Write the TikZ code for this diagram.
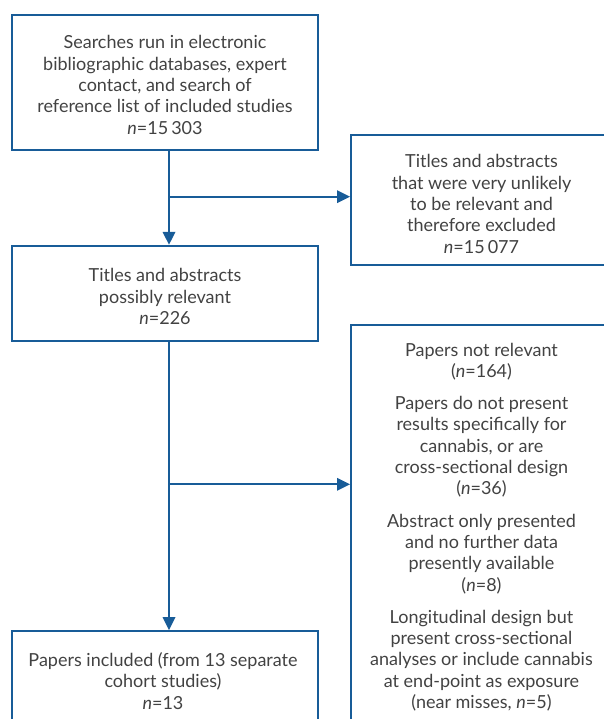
\documentclass[tikz,border=0pt]{standalone}
\usepackage{fontspec}
\setmainfont{Lato}
\usetikzlibrary{arrows.meta}
\definecolor{frame}{RGB}{24,92,152}
\definecolor{txt}{RGB}{66,66,66}
\begin{document}
\begin{tikzpicture}[x=1pt,y=-1pt,
  box/.style={draw=frame, line width=1.8pt, rectangle, inner sep=0pt},
  lbl/.style={align=center, text=txt, inner sep=0pt, font=\fontsize{18}{21.3}\selectfont},
  conn/.style={draw=frame, line width=1.8pt, -{Triangle[length=13pt,width=12.5pt]}}]
\useasboundingbox (0,0) rectangle (604,719);
\clip (0,0) rectangle (604,719);
% boxes
\node[box, minimum width=306pt, minimum height=135.3pt] (b1) at (165,82.35) {};
\node[box, minimum width=261pt, minimum height=130.3pt] (b2) at (481.5,199.85) {};
\node[box, minimum width=306pt, minimum height=95.3pt] (b3) at (165,293.35) {};
\node[box, minimum width=261pt, minimum height=405pt] (b4) at (481.5,527.5) {};
\node[box, minimum width=306pt, minimum height=104pt] (b5) at (165,683) {};
% texts
\node[lbl] (t1) at (165,85) {Searches run in electronic\\bibliographic databases, expert\\contact, and search of\\reference list of included studies\\\textit{n}=15\,303};
\node[lbl] (t2) at (481.5,204) {Titles and abstracts\\that were very unlikely\\to be relevant and\\therefore excluded\\\textit{n}=15\,077};
\node[lbl] (t3) at (165,296.5) {Titles and abstracts\\possibly relevant\\\textit{n}=226};
\node[lbl] (t4) at (481.5,527) {Papers not relevant\\(\textit{n}=164)\\[11pt]Papers do not present\\results specifically for\\cannabis, or are\\cross-sectional design\\(\textit{n}=36)\\[11pt]Abstract only presented\\and no further data\\presently available\\(\textit{n}=8)\\[11pt]Longitudinal design but\\present cross-sectional\\analyses or include cannabis\\at end-point as exposure\\(near misses, \textit{n}=5)};
\node[lbl] (t5) at (163,681) {Papers included (from 13 separate\\cohort studies)\\\textit{n}=13};
% connectors
\coordinate (trunk) at (169,0);
\coordinate (j1) at (169,196.7);
\coordinate (j2) at (169,484.3);
\draw[conn] (b1.south -| trunk) -- (b3.north -| trunk);
\draw[conn] (j1) -- (j1 -| b2.west);
\draw[conn] (b3.south -| trunk) -- (b5.north -| trunk);
\draw[conn] (j2) -- (j2 -| b4.west);
\end{tikzpicture}
\end{document}
